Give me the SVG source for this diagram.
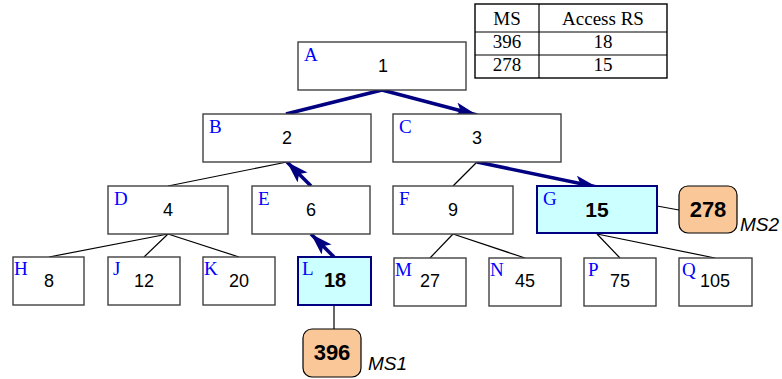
<svg xmlns="http://www.w3.org/2000/svg" width="782" height="379" viewBox="0 0 782 379">
<style>
.box{fill:#fff;stroke:#404040;stroke-width:1.4}
.hl{fill:#CCFFFF;stroke:#000080;stroke-width:2}
.ms{fill:#FAC898;stroke:#000;stroke-width:1.2}
.lbl{font-family:"Liberation Serif",serif;font-size:19px;fill:#0000FF}
.val{font-family:"Liberation Sans",Arial,sans-serif;font-size:18px;fill:#000;text-anchor:middle}
.bold{font-weight:bold;font-size:21px}
.msv{font-family:"Liberation Sans",Arial,sans-serif;font-size:22px;font-weight:bold;text-anchor:middle}
.mst{font-family:"Liberation Sans",Arial,sans-serif;font-size:19px;font-style:italic}
.thin{stroke:#000;stroke-width:1.2;fill:none}
.arr{stroke:#000080;stroke-width:3.5;fill:none}
.tt{font-family:"Liberation Serif",serif;font-size:19px;text-anchor:middle}
.tl{stroke:#000;stroke-width:1.2}
</style>
<defs>
<marker id="ah" markerUnits="userSpaceOnUse" markerWidth="24" markerHeight="16" refX="22" refY="7" orient="auto">
<path d="M0,0 L22,7 L0,14 L5,7 Z" fill="#000080"/>
</marker>
</defs>

<g id="table">
<rect x="475" y="4" width="192" height="74" fill="#fff" stroke="#000" stroke-width="1.4"/>
<line class="tl" x1="475" y1="32" x2="667" y2="32"/>
<line class="tl" x1="475" y1="55" x2="667" y2="55"/>
<line class="tl" x1="539" y1="4" x2="539" y2="78"/>
<text class="tt" x="507" y="25">MS</text>
<text class="tt" x="603" y="25">Access RS</text>
<text class="tt" x="507" y="48">396</text>
<text class="tt" x="603" y="48">18</text>
<text class="tt" x="507" y="71">278</text>
<text class="tt" x="603" y="71">15</text>
</g>

<g id="connectors">
<line class="thin" x1="287" y1="162" x2="168" y2="186"/>
<line class="thin" x1="477" y1="162" x2="453" y2="186"/>
<line class="thin" x1="168" y1="234" x2="49" y2="257"/>
<line class="thin" x1="168" y1="234" x2="144" y2="257"/>
<line class="thin" x1="168" y1="234" x2="239" y2="257"/>
<line class="thin" x1="453" y1="234" x2="430" y2="258"/>
<line class="thin" x1="453" y1="234" x2="525" y2="258"/>
<line class="thin" x1="597" y1="234" x2="620" y2="258"/>
<line class="thin" x1="597" y1="234" x2="715" y2="258"/>
<line class="thin" x1="334" y1="305" x2="334" y2="329"/>
<line class="thin" x1="657" y1="206" x2="679" y2="210"/>
<line class="arr" x1="286" y1="114" x2="382" y2="90"/>
<line class="arr" x1="382" y1="90" x2="477" y2="115" marker-end="url(#ah)"/>
<line class="arr" x1="477" y1="162" x2="597" y2="187" marker-end="url(#ah)"/>
<line class="arr" x1="311" y1="186" x2="287" y2="162" marker-end="url(#ah)"/>
<line class="arr" x1="334" y1="257" x2="311" y2="234" marker-end="url(#ah)"/>
</g>

<g id="A"><rect class="box" x="298" y="42" width="168" height="48"/><text class="lbl" x="304" y="61">A</text><text class="val" x="383" y="72">1</text></g>
<g id="B"><rect class="box" x="203" y="114" width="168" height="48"/><text class="lbl" x="209" y="133">B</text><text class="val" x="287" y="144">2</text></g>
<g id="C"><rect class="box" x="393" y="114" width="168" height="48"/><text class="lbl" x="399" y="133">C</text><text class="val" x="477" y="144">3</text></g>
<g id="D"><rect class="box" x="108" y="186" width="120" height="48"/><text class="lbl" x="114" y="205">D</text><text class="val" x="168" y="216">4</text></g>
<g id="E"><rect class="box" x="252" y="186" width="118" height="48"/><text class="lbl" x="258" y="205">E</text><text class="val" x="311" y="216">6</text></g>
<g id="F"><rect class="box" x="393" y="186" width="120" height="48"/><text class="lbl" x="399" y="205">F</text><text class="val" x="453" y="216">9</text></g>
<g id="G"><rect class="hl" x="537" y="186" width="120" height="47"/><text class="lbl" x="543" y="205">G</text><text class="val bold" x="597" y="217">15</text></g>
<g id="H"><rect class="box" x="13" y="257" width="71" height="48"/><text class="lbl" x="14" y="275">H</text><text class="val" x="49" y="287">8</text></g>
<g id="J"><rect class="box" x="108" y="257" width="72" height="48"/><text class="lbl" x="113" y="275">J</text><text class="val" x="144" y="287">12</text></g>
<g id="K"><rect class="box" x="203" y="257" width="72" height="48"/><text class="lbl" x="204" y="275">K</text><text class="val" x="239" y="287">20</text></g>
<g id="L"><rect class="hl" x="298" y="257" width="73" height="48"/><text class="lbl" x="302" y="275">L</text><text class="val bold" x="335" y="287" style="font-size:20px">18</text></g>
<g id="M"><rect class="box" x="394" y="258" width="72" height="48"/><text class="lbl" x="395" y="276">M</text><text class="val" x="430" y="287">27</text></g>
<g id="N"><rect class="box" x="489" y="258" width="72" height="48"/><text class="lbl" x="490" y="276">N</text><text class="val" x="525" y="287">45</text></g>
<g id="P"><rect class="box" x="584" y="258" width="72" height="48"/><text class="lbl" x="588" y="276">P</text><text class="val" x="620" y="287">75</text></g>
<g id="Q"><rect class="box" x="679" y="258" width="73" height="48"/><text class="lbl" x="682" y="276">Q</text><text class="val" x="715" y="287">105</text></g>

<g id="MS1"><rect class="ms" x="303" y="329" width="58" height="48" rx="9"/><text class="msv" x="332" y="360">396</text><text class="mst" x="368" y="370">MS1</text></g>
<g id="MS2"><rect class="ms" x="679" y="186" width="58" height="47" rx="9"/><text class="msv" x="708" y="217">278</text><text class="mst" x="740" y="231">MS2</text></g>
</svg>
